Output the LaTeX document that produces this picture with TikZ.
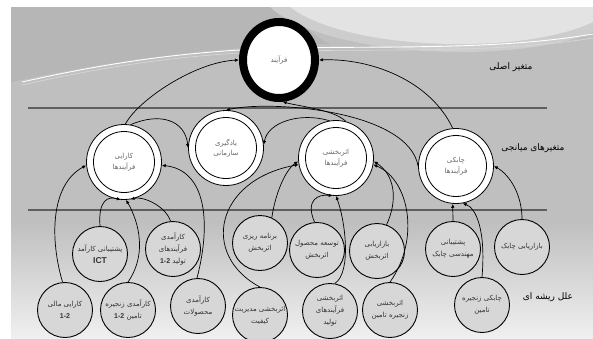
\documentclass[tikz,border=0pt]{standalone}
\usepackage{fontspec}
\setmainfont{Liberation Sans}
\newfontfamily\fafont[Script=Arabic]{DejaVu Sans}
\TeXXeTstate=1
\usetikzlibrary{shapes.geometric,arrows.meta,calc}

% Persian text run, and a bold Latin number inside it
\newcommand\fa[1]{{\fafont\beginR #1\endR}}
\newcommand\num[1]{{\normalfont\bfseries\beginL #1\endL}}

\definecolor{bggray}{HTML}{BFBFBF}
\definecolor{topband}{HTML}{B6B6B6}
\definecolor{swoosh}{HTML}{E3E3E3}
\definecolor{swooshmid}{HTML}{CDCDCD}
\definecolor{cfill}{HTML}{D7D7D7}
\definecolor{linegray}{HTML}{5E5E5E}

\tikzset{
  mainnode/.style={ellipse, draw=black, line width=8pt, fill=white,
    minimum width=72pt, minimum height=76pt, inner sep=0pt,
    text=black!60, font=\fontsize{7}{9}\selectfont},
  midnode/.style={circle, draw=black, line width=0.8pt, fill=white,
    minimum size=75pt, inner sep=0pt, align=center, text=black!60,
    font=\fontsize{7}{10.5}\selectfont,
    path picture={\draw[line width=0.8pt] (path picture bounding box.center) circle (30.5pt);}},
  rootnode/.style={circle, draw=black, line width=0.9pt, fill=cfill,
    minimum size=55pt, inner sep=0pt, align=center, text=black!80,
    font=\fontsize{7}{12}\selectfont},
  link/.style={line width=0.7pt, -{Latex[length=4pt,width=3.4pt]}},
  sepline/.style={line width=1.6pt, draw=linegray},
  caption/.style={font=\fontsize{9}{11}\selectfont, text=black}
}

\begin{document}
\begin{tikzpicture}[x=1pt,y=-1pt]
\useasboundingbox (0,0) rectangle (593,338);

% slide background
\fill[white] (0,0) rectangle (593,338);
\fill[bggray] (11,7) rectangle (593,222);
\shade[top color=bggray, bottom color=white!94!black] (11,221.5) rectangle (593,338);
\fill[topband] (11,7) -- (285,7) .. controls (300,22) and (310,34) .. (330,44)
  .. controls (250,44) and (120,58) .. (11,82) -- cycle;
\fill[swooshmid] (270,7) .. controls (300,35) and (380,52) .. (460,52)
  .. controls (530,52) and (575,40) .. (593,32) -- (593,7) -- cycle;
\fill[swoosh] (290,7) .. controls (320,30) and (385,44) .. (460,44)
  .. controls (530,44) and (572,32) .. (593,22) -- (593,7) -- cycle;
\draw[white, line width=0.9pt] (22,82) .. controls (120,60) and (200,50) .. (290,48)
  .. controls (390,46) and (500,50) .. (593,34);
\draw[white!85!black, line width=0.6pt] (22,85) .. controls (120,63) and (200,53) .. (290,51)
  .. controls (390,49) and (500,53) .. (593,38);

% layer separators
\draw[sepline] (28,108) -- (547,108);
\draw[sepline] (28,210) -- (547,210);

% layer captions
\node[caption] (capA) at (511,67) {\fa{متغیر اصلی}};
\node[caption] (capB) at (533,148) {\fa{متغیرهای میانجی}};
\node[caption] (capC) at (548,297) {\fa{علل ریشه ای}};

% main variable
\node[mainnode] (main) at (279,60) {\fa{فرآیند}};

% mediating variables
\node[midnode] (k1) at (124,162) {\fa{کارایی}\\\fa{فرآیندها}};
\node[midnode] (k2) at (226,148) {\fa{یادگیری}\\\fa{سازمانی}};
\node[midnode] (k3) at (336,158) {\fa{اثربخشی}\\\fa{فرآیندها}};
\node[midnode] (k4) at (456,166) {\fa{چابکی}\\\fa{فرآیندها}};

% root causes, upper row
\node[rootnode] (r1) at (100,254) {\fa{پشتیبانی کارآمد}\\{\normalfont\bfseries\fontsize{8.5}{10}\selectfont ICT}};
\node[rootnode] (r2) at (173,249) {\fa{کارآمدی}\\\fa{فرآیندهای}\\\fa{تولید \num{1-2}}};
\node[rootnode] (r3) at (260,243) {\fa{برنامه ریزی}\\\fa{اثربخش}};
\node[rootnode] (r4) at (317,250) {\fa{توسعه محصول}\\\fa{اثربخش}};
\node[rootnode] (r5) at (377,251) {\fa{بازاریابی}\\\fa{اثربخش}};
\node[rootnode] (r6) at (453,249) {\fa{پشتیبانی}\\\fa{مهندسی چابک}};
\node[rootnode] (r7) at (522,247) {\fa{بازاریابی چابک}};

% root causes, lower row
\node[rootnode] (s1) at (65,310) {\fa{کارایی مالی}\\\num{1-2}};
\node[rootnode] (s2) at (128,310) {\fa{کارآمدی زنجیره}\\\fa{تامین \num{1-2}}};
\node[rootnode] (s3) at (198,306) {\fa{کارآمدی}\\\fa{محصولات}};
\node[rootnode] (s4) at (260,315) {\fa{اثربخشی مدیریت}\\\fa{کیفیت}};
\node[rootnode] (s5) at (330,311) {\fa{اثربخشی}\\\fa{فرآیندهای}\\\fa{تولید}};
\node[rootnode] (s6) at (390,310) {\fa{اثربخشی}\\\fa{زنجیره تامین}};
\node[rootnode] (s7) at (482,305) {\fa{چابکی زنجیره}\\\fa{تامین}};

% mediating variables -> main variable
\draw[link] (k1.88) .. controls (138,100) and (195,62) .. (main.west);
\draw[link] (k4.95) .. controls (430,80) and (370,58) .. (main.east);
\draw[link] (k3.75) .. controls (335,110) and (298,106) .. (main.-85);

% links among mediating variables
\draw[link] (k3.100) .. controls (300,112) and (268,122) .. (k2.5);
\draw[link] (k4.180) .. controls (408,110) and (270,100) .. (k2.north);
\draw[link] (k1.80) .. controls (160,112) and (185,120) .. (k2.180);

% root causes -> efficiency
\draw[link] (s1.95) .. controls (50,240) and (50,185) .. (k1.185);
\draw[link] (s3.92) .. controls (212,220) and (205,170) .. (k1.-5);
\draw[link] (r1.north) .. controls (98,200) and (108,196) .. (k1.265);
\draw[link] (r2.95) .. controls (165,205) and (142,196) .. (k1.280);
\draw[link] (s2.north) .. controls (150,250) and (135,215) .. (k1.273);

% root causes -> effectiveness
\draw[link] (r3.65) .. controls (275,195) and (285,170) .. (k3.185);
\draw[link] (s4.north) .. controls (200,255) and (215,180) .. (k3.190);
\draw[link] (r4.95) .. controls (305,200) and (318,194) .. (k3.265);
\draw[link] (s5.80) .. controls (352,272) and (345,220) .. (k3.270);
\draw[link] (r5.70) .. controls (398,200) and (395,175) .. (k3.-5);
\draw[link] (s6.north) .. controls (420,240) and (410,180) .. (k3.-10);

% root causes -> agility
\draw[link] (r6.north) -- (k4.265);
\draw[link] (s7.north) .. controls (486,230) and (476,208) .. (k4.280);
\draw[link] (r7.north) .. controls (522,195) and (510,175) .. (k4.0);
\end{tikzpicture}
\end{document}
